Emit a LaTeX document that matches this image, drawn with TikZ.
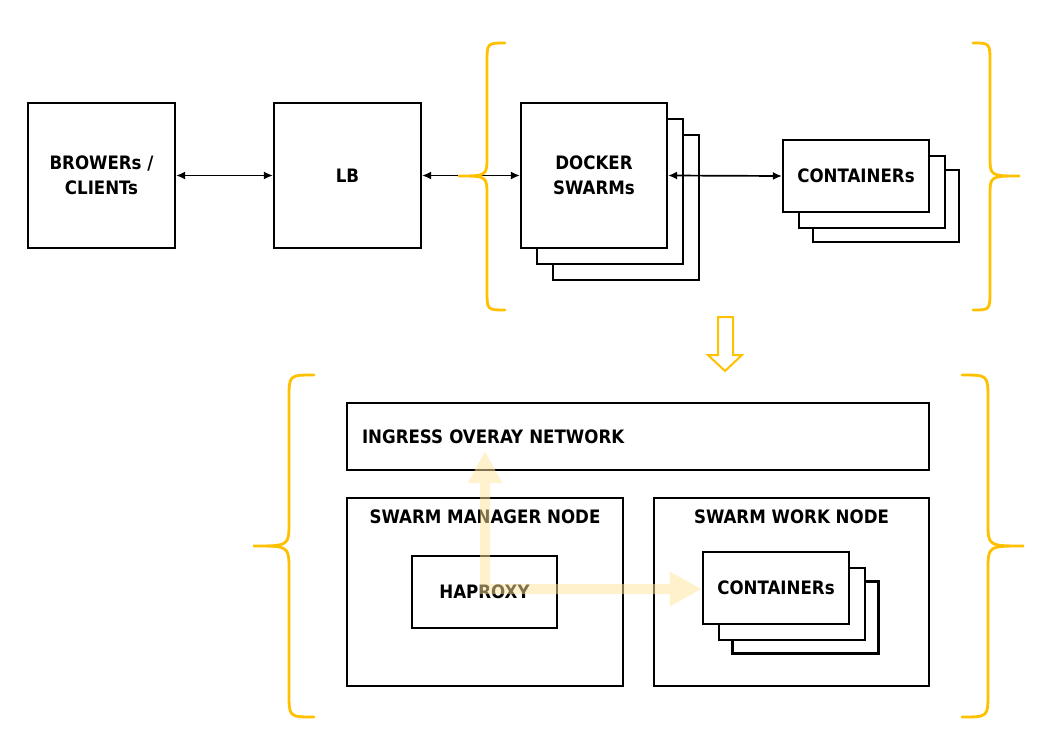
\documentclass[tikz,border=0pt]{standalone}
\usepackage{fontspec}
\setmainfont{DejaVu Sans Condensed}
\usetikzlibrary{arrows.meta}

\begin{document}
\begin{tikzpicture}[x=1pt,y=1pt,yscale=-1,xscale=1,
  box/.style={draw, line width=2.2pt, fill=white, inner sep=0pt, align=center, font=\bfseries\fontsize{18.5}{25}\selectfont},
  link/.style={line width=1.7pt, {Latex[length=9pt,width=8pt]}-{Latex[length=9pt,width=8pt]}},
  brace/.style={color={rgb, 255:red, 255; green, 192; blue, 0 }, line width=2.8pt, line cap=round},
  flow/.style={color={rgb, 255:red, 255; green, 229; blue, 153 }, line width=10pt, line join=miter,
    {Triangle[length=32pt,width=32pt]}-{Triangle[length=32pt,width=32pt]}}]
\useasboundingbox (0,0) rectangle (1042,741);

%Shape: Rectangle [browsers]
\node[box, minimum width=147, minimum height=145] (clients) at (101.5,175.5) {BROWERs /\\CLIENTs};
%Shape: Rectangle [lb]
\node[box, minimum width=147, minimum height=145] (lb) at (347.5,175.5) {LB};
%Shape: Rectangle [swarm stack]
\node[box, minimum width=146, minimum height=145] (swarm3) at (626,207.5) {};
\node[box, minimum width=146, minimum height=145] (swarm2) at (610,191.5) {};
\node[box, minimum width=146, minimum height=145] (swarm) at (594,175.5) {DOCKER\\SWARMs};
%Shape: Rectangle [containers stack]
\node[box, minimum width=146, minimum height=72] (cont3) at (886,206) {};
\node[box, minimum width=146, minimum height=72] (cont2) at (872,192) {};
\node[box, minimum width=146, minimum height=72] (cont) at (856,176) {CONTAINERs};

%Straight Lines
\draw[link] (clients.east) -- (lb.west);
\draw[link] (lb.east) -- (swarm.west);
\draw[link] (swarm.east) -- (cont.west);

%Shape: Brace [top left]
\draw[brace] (505,43) .. controls (487,43) .. (487,63) -- (487,156) .. controls (487,176) .. (458,176) .. controls (487,176) .. (487,196) -- (487,290) .. controls (487,310) .. (505,310);
%Shape: Brace [top right]
\draw[brace] (973,43) .. controls (990,43) .. (990,63) -- (990,156) .. controls (990,176) .. (1020,176) .. controls (990,176) .. (990,196) -- (990,290) .. controls (990,310) .. (973,310);

%Shape: Hollow Arrow
\draw[brace, line width=2pt, line cap=butt, line join=miter] (718,317) -- (733,317) -- (733,355) -- (742,355) -- (725,371) -- (708,355) -- (718,355) -- cycle;

%Shape: Rectangle [ingress]
\node[box, minimum height=67, text width=552, inner xsep=15, align=left] (ingress) at (638,436.5) {INGRESS OVERAY NETWORK};
%Shape: Rectangle [manager]
\node[box, minimum width=276, minimum height=188, label={[font=\bfseries\fontsize{18.5}{25}\selectfont, anchor=north, yshift=-9]north:SWARM MANAGER NODE}] (manager) at (485,592) {};
\node[box, minimum width=145, minimum height=72] (haproxy) at (484.5,592) {HAPROXY};
%Shape: Rectangle [worker]
\node[box, minimum width=275, minimum height=188, label={[font=\bfseries\fontsize{18.5}{25}\selectfont, anchor=north, yshift=-9]north:SWARM WORK NODE}] (worker) at (791.5,592) {};
\node[box, minimum width=146, minimum height=72] (wcont3) at (805.5,617.5) {};
\node[box, minimum width=146, minimum height=72] (wcont2) at (792,604) {};
\node[box, minimum width=146, minimum height=72] (wcont) at (776,588) {CONTAINERs};

%Shape: Brace [bottom left]
\draw[brace] (314,375) .. controls (289,375) .. (289,399) -- (289,522) .. controls (289,546) .. (253,546) .. controls (289,546) .. (289,570) -- (289,693) .. controls (289,717) .. (314,717);
%Shape: Brace [bottom right]
\draw[brace] (962,375) .. controls (988,375) .. (988,399) -- (988,522) .. controls (988,546) .. (1024,546) .. controls (988,546) .. (988,570) -- (988,693) .. controls (988,717) .. (962,717);

%Straight Lines [traffic]
\coordinate (hub) at (485,589);
\coordinate (ingtip) at (485,451);
\begin{scope}[transparency group, opacity=0.5]
\draw[flow] (ingtip) -- (hub) -- (wcont.west |- hub);
\end{scope}
\end{tikzpicture}
\end{document}
